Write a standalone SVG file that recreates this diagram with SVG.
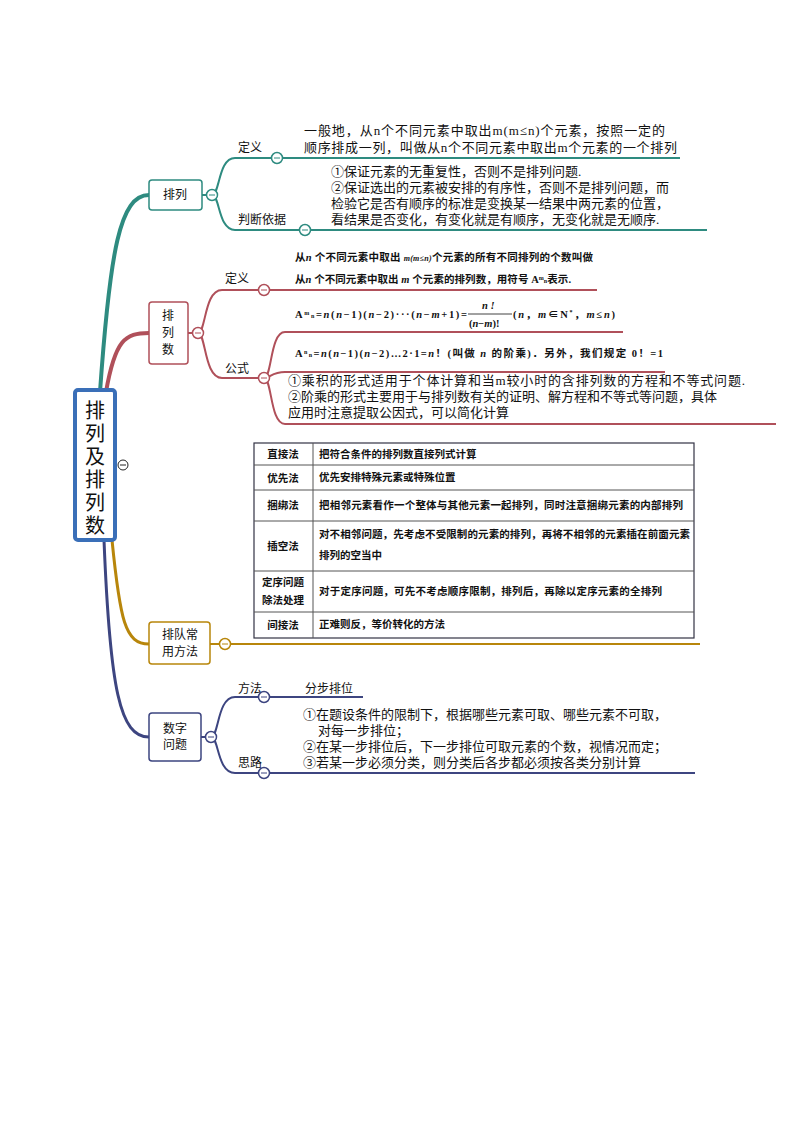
<svg xmlns="http://www.w3.org/2000/svg" width="794" height="1123" viewBox="0 0 794 1123">
<style>
text{font-family:"Liberation Serif","Noto Sans CJK SC",serif;fill:#111}
.t{font-size:13px}
.lb{font-size:12px}
.b{font-size:10.5px;font-weight:bold}
.tb{font-size:10.5px;font-weight:bold}
.box{fill:#fff;stroke-width:1.5}
.c{fill:#fff;stroke-width:1.5}
.tl{stroke:#555;stroke-width:1;fill:none}
</style>
<rect width="794" height="1123" fill="#fff"/>
<g id="connectors" fill="none">
<path d="M100 392 C110 250 120 195 149 195" stroke="#2e8b80" stroke-width="4"/>
<path d="M106 392 C115 340 125 333 149 333" stroke="#b0505a" stroke-width="4"/>
<path d="M112 540 C120 620 125 644 149 644" stroke="#b8860b" stroke-width="3"/>
<path d="M104 540 C110 690 120 737 149 737" stroke="#3d4580" stroke-width="3"/>
<g stroke="#2e8b80" stroke-width="2">
<path d="M202 195 H212 C220 195 218 158 235 158 H680"/>
<path d="M212 195 C220 195 218 230 235 230 H707"/>
</g>
<g stroke="#b0505a" stroke-width="2">
<path d="M188 333 H198 C206 333 204 290 222 290 H597"/>
<path d="M198 333 C206 333 204 378 222 378 H264"/>
<path d="M264 378 C272 378 270 332 285 332 H623"/>
<path d="M264 378 C270 378 272 372 285 372 H665"/>
<path d="M264 378 C272 378 270 424 285 424 H776"/>
</g>
<path d="M210 644 H700" stroke="#b8860b" stroke-width="2"/>
<g stroke="#3d4580" stroke-width="2">
<path d="M201 737 H211 C219 737 217 697 235 697 H363"/>
<path d="M211 737 C219 737 217 773 235 773 H695"/>
</g>
</g>
<g id="root"><rect x="75" y="390" width="40" height="150" rx="3" fill="#fff" stroke="#3a6fb8" stroke-width="4"/>
<g font-size="20" text-anchor="middle"><text x="95" y="418" font-size="20">排</text><text x="95" y="441" font-size="20">列</text><text x="95" y="464" font-size="20">及</text><text x="95" y="487" font-size="20">排</text><text x="95" y="510" font-size="20">列</text><text x="95" y="533" font-size="20">数</text></g>
<circle cx="123" cy="465" r="5" fill="#fff" stroke="#222"/><line x1="120" y1="465" x2="126" y2="465" stroke="#222"/></g>
<g id="n1"><rect class="box" x="149" y="180" width="53" height="30" rx="3" stroke="#2e8b80"/><text x="175" y="199" class="lb" text-anchor="middle">排列</text>
<circle class="c" cx="212" cy="195" r="5.5" stroke="#2e8b80"/><line x1="209" y1="195" x2="215" y2="195" stroke="#2e8b80"/>
<text x="238" y="152" class="lb">定义</text><circle class="c" cx="277" cy="158" r="5.5" stroke="#2e8b80"/><line x1="274" y1="158" x2="280" y2="158" stroke="#2e8b80"/>
<text x="304" y="135" class="t" textLength="361" lengthAdjust="spacing">一般地，从n个不同元素中取出m(m≤n)个元素，按照一定的</text>
<text x="304" y="152" class="t" textLength="373" lengthAdjust="spacing">顺序排成一列，叫做从n个不同元素中取出m个元素的一个排列</text>
<text x="238" y="224" class="lb">判断依据</text><circle class="c" cx="305" cy="230" r="5.5" stroke="#2e8b80"/><line x1="302" y1="230" x2="308" y2="230" stroke="#2e8b80"/>
<text x="331" y="176" class="t">①保证元素的无重复性，否则不是排列问题.</text>
<text x="331" y="192" class="t">②保证选出的元素被安排的有序性，否则不是排列问题，而</text>
<text x="331" y="208" class="t">检验它是否有顺序的标准是变换某一结果中两元素的位置，</text>
<text x="331" y="224" class="t">看结果是否变化，有变化就是有顺序，无变化就是无顺序.</text></g>
<g id="n2"><rect class="box" x="149" y="302" width="39" height="62" rx="3" stroke="#b0505a"/>
<text x="168" y="320" class="lb" text-anchor="middle">排</text><text x="168" y="337" class="lb" text-anchor="middle">列</text><text x="168" y="354" class="lb" text-anchor="middle">数</text>
<circle class="c" cx="198" cy="333" r="5.5" stroke="#b0505a"/><line x1="195" y1="333" x2="201" y2="333" stroke="#b0505a"/>
<text x="225" y="283" class="lb">定义</text><circle class="c" cx="264" cy="290" r="5.5" stroke="#b0505a"/><line x1="261" y1="290" x2="267" y2="290" stroke="#b0505a"/>
<text x="295" y="261" class="b" textLength="298" lengthAdjust="spacing">从<tspan font-style="italic">n</tspan> 个不同元素中取出 <tspan font-style="italic" font-size="8">m(m≤n)</tspan>个元素的所有不同排列的个数叫做</text>
<text x="295" y="283" class="b" textLength="276" lengthAdjust="spacing">从<tspan font-style="italic">n</tspan> 个不同元素中取出 <tspan font-style="italic">m</tspan> 个元素的排列数，用符号 A<tspan font-size="6" dy="-3">m</tspan><tspan font-size="6" dy="3">n</tspan>表示.</text>
<text x="225" y="373" class="lb">公式</text><circle class="c" cx="264" cy="378" r="5.5" stroke="#b0505a"/><line x1="261" y1="378" x2="267" y2="378" stroke="#b0505a"/>
<text x="295" y="318" class="b" textLength="172" lengthAdjust="spacing">A<tspan font-size="6" dy="-3">m</tspan><tspan font-size="6" dy="3">n</tspan>=<tspan font-style="italic">n</tspan>(<tspan font-style="italic">n</tspan>−1)(<tspan font-style="italic">n</tspan>−2)···(<tspan font-style="italic">n</tspan>−<tspan font-style="italic">m</tspan>+1)=</text>
<text x="482" y="309" class="b" font-style="italic">n !</text><line x1="468" y1="314" x2="512" y2="314" stroke="#111" stroke-width="0.8"/>
<text x="469" y="327" class="b">(<tspan font-style="italic">n</tspan>−<tspan font-style="italic">m</tspan>)!</text>
<text x="513" y="318" class="b" textLength="102" lengthAdjust="spacing">(<tspan font-style="italic">n</tspan>，<tspan font-style="italic">m</tspan>∈N<tspan font-size="6" dy="-4">*</tspan><tspan dy="4">，</tspan><tspan font-style="italic">m</tspan>≤<tspan font-style="italic">n</tspan>)</text>
<text x="295" y="357" class="b" textLength="368" lengthAdjust="spacing">A<tspan font-size="6" dy="-3">n</tspan><tspan font-size="6" dy="3">n</tspan>=<tspan font-style="italic">n</tspan>(<tspan font-style="italic">n</tspan>−1)(<tspan font-style="italic">n</tspan>−2)…2·1=<tspan font-style="italic">n</tspan>！(叫做 <tspan font-style="italic">n</tspan> 的阶乘)．另外，我们规定 0！=1</text>
<text x="288" y="385" class="t" textLength="457" lengthAdjust="spacing">①乘积的形式适用于个体计算和当m较小时的含排列数的方程和不等式问题.</text>
<text x="288" y="401" class="t">②阶乘的形式主要用于与排列数有关的证明、解方程和不等式等问题，具体</text>
<text x="288" y="417" class="t">应用时注意提取公因式，可以简化计算</text></g>
<g id="n3"><rect class="box" x="149" y="622" width="61" height="42" rx="3" stroke="#b8860b"/>
<text x="180" y="639" class="lb" text-anchor="middle">排队常</text><text x="180" y="656" class="lb" text-anchor="middle">用方法</text>
<circle class="c" cx="225" cy="644" r="5.5" stroke="#b8860b"/><line x1="222" y1="644" x2="228" y2="644" stroke="#b8860b"/>
<g id="table">
<rect x="254" y="443" width="440" height="195" fill="#fff" stroke="#334" stroke-width="1.2"/>
<path class="tl" d="M313 443V638M254 465H694M254 490H694M254 521H694M254 571H694M254 612H694"/>
<g class="tb" text-anchor="middle">
<text x="283" y="458" class="tb">直接法</text><text x="283" y="482" class="tb">优先法</text><text x="283" y="509" class="tb">捆绑法</text><text x="283" y="550" class="tb">插空法</text><text x="283" y="586" class="tb">定序问题</text><text x="283" y="604" class="tb">除法处理</text><text x="283" y="629" class="tb">间接法</text></g>
<text x="319" y="458" class="tb">把符合条件的排列数直接列式计算</text>
<text x="319" y="481" class="tb">优先安排特殊元素或特殊位置</text>
<text x="319" y="509" class="tb" textLength="364" lengthAdjust="spacing">把相邻元素看作一个整体与其他元素一起排列，同时注意捆绑元素的内部排列</text>
<text x="319" y="538" class="tb" textLength="371" lengthAdjust="spacing">对不相邻问题，先考虑不受限制的元素的排列，再将不相邻的元素插在前面元素</text>
<text x="319" y="559" class="tb">排列的空当中</text>
<text x="319" y="595" class="tb" textLength="343" lengthAdjust="spacing">对于定序问题，可先不考虑顺序限制，排列后，再除以定序元素的全排列</text>
<text x="319" y="628" class="tb">正难则反，等价转化的方法</text>
</g></g>
<g id="n4"><rect class="box" x="149" y="713" width="52" height="48" rx="3" stroke="#3d4580"/>
<text x="175" y="733" class="lb" text-anchor="middle">数字</text><text x="175" y="749" class="lb" text-anchor="middle">问题</text>
<circle class="c" cx="211" cy="737" r="5.5" stroke="#3d4580"/><line x1="208" y1="737" x2="214" y2="737" stroke="#3d4580"/>
<text x="238" y="693" class="lb">方法</text><circle class="c" cx="264" cy="697" r="5.5" stroke="#3d4580"/><line x1="261" y1="697" x2="267" y2="697" stroke="#3d4580"/>
<text x="305" y="693" class="lb">分步排位</text>
<text x="238" y="767" class="lb">思路</text><circle class="c" cx="264" cy="773" r="5.5" stroke="#3d4580"/><line x1="261" y1="773" x2="267" y2="773" stroke="#3d4580"/>
<text x="303" y="719" class="t">①在题设条件的限制下，根据哪些元素可取、哪些元素不可取，</text>
<text x="318" y="735" class="t">对每一步排位；</text>
<text x="303" y="751" class="t">②在某一步排位后，下一步排位可取元素的个数，视情况而定；</text>
<text x="303" y="767" class="t">③若某一步必须分类，则分类后各步都必须按各类分别计算</text></g>
</svg>
